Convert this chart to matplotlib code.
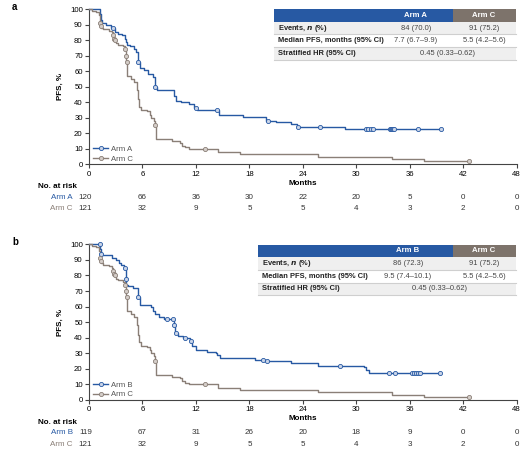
import numpy as np
import matplotlib
matplotlib.use("Agg")
import matplotlib.pyplot as plt
from matplotlib.patches import Rectangle
from matplotlib import transforms

plt.rcParams['font.family'] = ['Liberation Sans', 'DejaVu Sans']

BLUE = "#2759a3"
GRAY = "#8a7f77"
HEAD_GRAY = "#7d736b"
TXT = "#333333"

# Kaplan-Meier steps (month, PFS %)
arm_a_t = [0, 1.2, 1.3, 1.5, 1.9, 2.5, 2.9, 3.3, 3.7, 4.0, 4.2, 4.3, 4.6, 5.0, 5.3, 5.5, 5.7, 6.2, 6.6, 7.2,
           7.4, 7.6, 9.5, 9.8, 10.3, 11.2, 11.8, 12.1, 14.6, 17.3, 19.9, 21.0, 22.7, 23.3, 28.7]
arm_a_s = [100, 97, 93, 91, 90, 88, 85, 84, 83, 81, 79, 77, 76, 74, 72, 66, 62, 61, 58, 56,
           50, 48, 44, 41, 40, 39, 36, 35, 32, 30.5, 28, 27, 26, 24, 23]
arm_a_cens = [2.7, 5.55, 7.45, 12.0, 14.4, 20.1, 23.4, 25.9, 31.1, 31.3, 31.6, 31.9, 33.8, 33.9, 34.0,
              34.1, 34.2, 36.9, 39.5]
arm_a_end = 39.5

arm_b_t = [0, 1.25, 1.35, 1.5, 2.6, 3.0, 3.4, 3.6, 3.9, 4.1, 4.2, 4.4, 4.9, 5.5, 5.7, 7.0, 7.2, 7.4, 7.9,
           8.4, 9.5, 9.7, 10.0, 10.5, 11.3, 11.6, 12.0, 13.2, 14.2, 14.4, 14.7, 18.6, 19.7, 22.7, 25.7,
           30.9, 31.1, 31.4]
arm_b_s = [100, 97, 94, 93, 91, 90, 88, 87, 85, 78, 74, 73, 72, 66, 61, 60, 57, 55, 53,
           52, 48, 43, 41, 40, 38, 35, 32, 31, 30, 29, 27, 26, 25, 23.5, 22,
           21, 19.5, 17.5]
arm_b_cens = [1.22, 1.37, 4.0, 4.12, 5.55, 8.7, 9.4, 9.55, 9.75, 10.8, 11.5, 19.5, 20.0, 28.2, 33.7, 34.3,
              36.3, 36.5, 36.7, 36.9, 37.1, 39.4]
arm_b_end = 39.4

arm_c_t = [0, 0.3, 0.8, 1.1, 1.2, 1.3, 1.4, 1.6, 2.2, 2.6, 2.7, 2.8, 2.9, 3.0, 3.2, 3.8, 4.0, 4.1, 4.2,
           4.3, 4.7, 5.1, 5.4, 5.5, 5.6, 5.8, 6.5, 6.8, 7.0, 7.3, 7.4, 7.5, 9.3, 10.2, 10.4, 10.8, 11.2,
           14.5, 16.9, 25.7, 34.0, 37.6]
arm_c_s = [100, 99, 98, 96, 91, 89, 88, 87, 86, 85, 83, 81, 80, 78, 77, 76, 74, 70, 66,
           57, 55, 53, 48, 42, 37, 35, 34, 32, 30, 28, 25, 16, 15, 14, 12, 11, 10,
           8, 6.4, 4.9, 3.2, 2.1]
arm_c_cens = [1.25, 1.35, 2.72, 2.82, 2.92, 4.02, 4.12, 4.22, 7.42, 13.0, 42.7]
arm_c_end = 42.7

risk_times = [0, 6, 12, 18, 24, 30, 36, 42, 48]
risk_a = [120, 66, 36, 30, 22, 20, 5, 0, 0]
risk_b = [119, 67, 31, 26, 20, 18, 9, 0, 0]
risk_c = [121, 32, 9, 5, 5, 4, 3, 2, 0]

row_labels = ["Events, $\\mathbfit{n}$ (%)", "Median PFS, months (95% CI)", "Stratified HR (95% CI)"]
tab_a = [["84 (70.0)", "91 (75.2)"], ["7.7 (6.7\u20139.9)", "5.5 (4.2\u20135.6)"], ["0.45 (0.33\u20130.62)"]]
tab_b = [["86 (72.3)", "91 (75.2)"], ["9.5 (7.4\u201310.1)", "5.5 (4.2\u20135.6)"], ["0.45 (0.33\u20130.62)"]]

W, H = 529, 453
fig = plt.figure(figsize=(W / 100, H / 100), dpi=100)


def fx(px):
    return px / W


def fy(py):
    return 1 - py / H


def km(ax, t, s, end, cens, color, label):
    tt = list(t) + [end]
    ss = list(s) + [s[-1]]
    face = "#c9d4e8" if color == BLUE else "#d4cdc8"
    ax.step(tt, ss, where="post", color=color, lw=1.0, clip_on=False, zorder=3)
    idx = np.searchsorted(np.array(t), np.array(cens), side="right") - 1
    cy = np.array(s)[idx]
    ax.plot(cens, cy, "o", ms=3.0, mfc=face, mec=color, mew=0.6, ls="none", clip_on=False, zorder=4)
    ax.plot([], [], "-o", color=color, ms=3.0, mfc=face, mec=color, mew=0.6, lw=1.0, label=label)


def panel(top, bottom, letter, t1, s1, e1, c1, name1, risk1, tab, tab_left, col_centers, hr_center):
    ax = fig.add_axes([fx(89), fy(bottom), fx(516.7 - 89), (bottom - top) / H])
    km(ax, t1, s1, e1, c1, BLUE, name1)
    km(ax, arm_c_t, arm_c_s, arm_c_end, arm_c_cens, GRAY, "Arm C")
    ax.set_xlim(0, 48)
    ax.set_ylim(0, 100)
    ax.set_xticks(risk_times)
    ax.set_yticks(range(0, 101, 10))
    for sp in ["top", "right"]:
        ax.spines[sp].set_visible(False)
    for sp in ["left", "bottom"]:
        ax.spines[sp].set_color("#444444")
        ax.spines[sp].set_linewidth(0.8)
    ax.tick_params(labelsize=5.6, length=3, width=0.8, color="#444444", pad=1.5)
    ax.set_ylabel("PFS, %", fontsize=5.8, fontweight="bold", labelpad=4)
    leg = ax.legend(loc="lower left", bbox_to_anchor=(0.0, -0.015), frameon=False, fontsize=5.6,
                    handlelength=2.0, handletextpad=0.3, labelspacing=0.3, borderaxespad=0.1)
    for txt in leg.get_texts():
        txt.set_color("#555555")

    # risk table
    tr = transforms.blended_transform_factory(ax.transData, fig.transFigure)
    fig.text(fx(303), fy(bottom + 19), "Months", fontsize=5.8, fontweight="bold", ha="center", va="center")
    fig.text(fx(38), fy(bottom + 22), "No. at risk", fontsize=5.8, fontweight="bold", ha="left", va="center")
    fig.text(fx(73), fy(bottom + 33), name1, fontsize=5.8, color=BLUE, ha="right", va="center")
    fig.text(fx(73), fy(bottom + 44), "Arm C", fontsize=5.8, color=GRAY, ha="right", va="center")
    for xt, n1, n2 in zip(risk_times, risk1, risk_c):
        dx = -3.5 if xt == 0 else 0
        ax.text(xt, fy(bottom + 33), str(n1), fontsize=5.8, color=TXT, ha="center", va="center",
                transform=transforms.offset_copy(tr, fig=fig, x=dx, units="dots"))
        ax.text(xt, fy(bottom + 44), str(n2), fontsize=5.8, color=TXT, ha="center", va="center",
                transform=transforms.offset_copy(tr, fig=fig, x=dx, units="dots"))

    fig.text(fx(12), fy(top - 2), letter, fontsize=7, fontweight="bold", ha="left", va="center")

    # summary table
    split, right = 453, 516
    row_tops = [top + 0.3, top + 12.6, top + 25.4, top + 38.2, top + 51]
    fig.add_artist(Rectangle((fx(tab_left), fy(row_tops[1])), fx(split - tab_left), (row_tops[1] - row_tops[0]) / H,
                             transform=fig.transFigure, facecolor=BLUE, edgecolor="none"))
    fig.add_artist(Rectangle((fx(split), fy(row_tops[1])), fx(right - split), (row_tops[1] - row_tops[0]) / H,
                             transform=fig.transFigure, facecolor=HEAD_GRAY, edgecolor="none"))
    fig.text(fx(col_centers[0]), fy((row_tops[0] + row_tops[1]) / 2), name1, fontsize=5.6, fontweight="bold",
             color="white", ha="center", va="center")
    fig.text(fx(col_centers[1]), fy((row_tops[0] + row_tops[1]) / 2), "Arm C", fontsize=5.6, fontweight="bold",
             color="white", ha="center", va="center")
    shades = ["#efefef", "white", "#efefef"]
    for i in range(3):
        y0, y1 = row_tops[i + 1], row_tops[i + 2]
        fig.add_artist(Rectangle((fx(tab_left), fy(y1)), fx(right - tab_left), (y1 - y0) / H,
                                 transform=fig.transFigure, facecolor=shades[i], edgecolor="none"))
        fig.add_artist(plt.Line2D([fx(tab_left), fx(right)], [fy(y1), fy(y1)], transform=fig.transFigure,
                                  color="#cfcfcf", lw=0.8))
        ym = fy((y0 + y1) / 2)
        fig.text(fx(tab_left + 4), ym, row_labels[i], fontsize=5.4, fontweight="bold", color="#222222",
                 ha="left", va="center")
        if len(tab[i]) == 2:
            for xc, val in zip(col_centers, tab[i]):
                fig.text(fx(xc), ym, val, fontsize=5.4, color="#444444", ha="center", va="center")
        else:
            fig.text(fx(hr_center), ym, tab[i][0], fontsize=5.4, color="#444444", ha="center", va="center")
    return ax


panel(9, 164.3, "a", arm_a_t, arm_a_s, arm_a_end, arm_a_cens, "Arm A", risk_a, tab_a, 274, (416, 484), 448)
panel(244.3, 400, "b", arm_b_t, arm_b_s, arm_b_end, arm_b_cens, "Arm B", risk_b, tab_b, 258, (408, 484), 440)

fig.savefig("out.png", dpi=100)
